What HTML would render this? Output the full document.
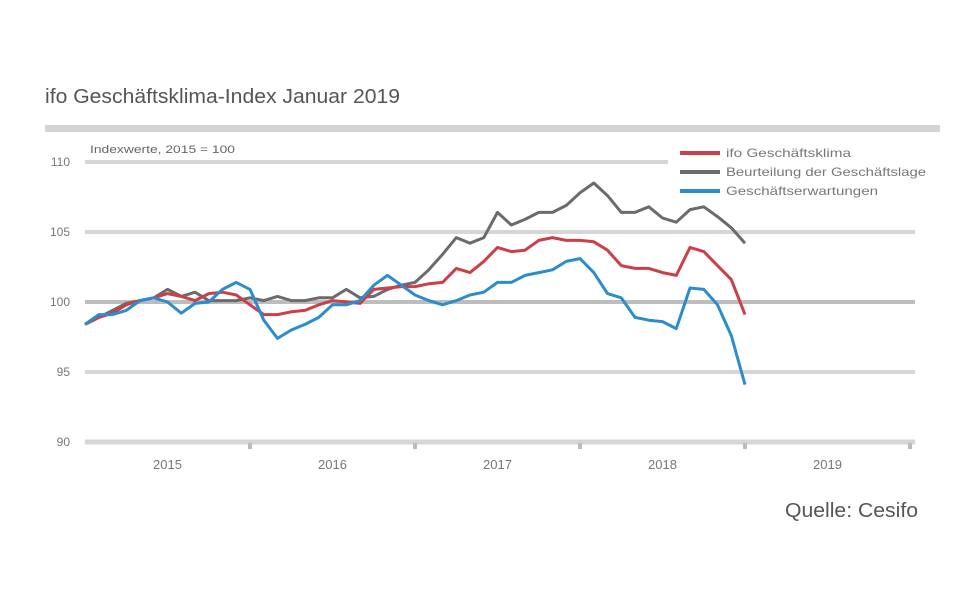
<!DOCTYPE html>
<html><head><meta charset="utf-8"><style>
body{margin:0;background:#fff;width:960px;height:585px;overflow:hidden;font-family:"Liberation Sans",sans-serif}
</style></head><body>
<svg id="chart" width="960" height="585" xmlns="http://www.w3.org/2000/svg" font-family="Liberation Sans, sans-serif">
<text x="45" y="103" font-size="20" fill="#555" textLength="355" lengthAdjust="spacingAndGlyphs">ifo Geschäftsklima-Index Januar 2019</text>
<rect x="45" y="125" width="895" height="7" fill="#d4d4d4"/>
<text x="90" y="153" font-size="11" fill="#666" textLength="145" lengthAdjust="spacingAndGlyphs">Indexwerte, 2015 = 100</text>
<g id="grid"></g><g id="lines"></g><g id="legend"></g>
<text x="785" y="517" font-size="20" fill="#555" textLength="133" lengthAdjust="spacingAndGlyphs">Quelle: Cesifo</text>
</svg>
<script>
const years=["2015","2016","2017","2018","2019"];
const yTicks=[90,95,100,105,110];
const klima=[98.4,98.9,99.2,99.8,100.1,100.3,100.6,100.4,100.1,100.6,100.7,100.5,99.8,99.1,99.1,99.3,99.4,99.8,100.1,100.0,99.9,100.9,101.0,101.1,101.1,101.3,101.4,102.4,102.1,102.9,103.9,103.6,103.7,104.4,104.6,104.4,104.4,104.3,103.7,102.6,102.4,102.4,102.1,101.9,103.9,103.6,102.6,101.6,99.1];
const lage=[98.4,98.9,99.4,99.9,100.1,100.3,100.9,100.4,100.7,100.1,100.1,100.1,100.3,100.1,100.4,100.1,100.1,100.3,100.3,100.9,100.3,100.4,100.9,101.2,101.4,102.3,103.4,104.6,104.2,104.6,106.4,105.5,105.9,106.4,106.4,106.9,107.8,108.5,107.6,106.4,106.4,106.8,106.0,105.7,106.6,106.8,106.1,105.3,104.2];
const erwart=[98.4,99.1,99.1,99.4,100.1,100.3,100.0,99.2,99.9,100.0,100.9,101.4,100.9,98.7,97.4,98.0,98.4,98.9,99.8,99.8,100.1,101.2,101.9,101.2,100.5,100.1,99.8,100.1,100.5,100.7,101.4,101.4,101.9,102.1,102.3,102.9,103.1,102.1,100.6,100.3,98.9,98.7,98.6,98.1,101.0,100.9,99.8,97.6,94.1];
const seriesNames=["ifo Geschäftsklima","Beurteilung der Geschäftslage","Geschäftserwartungen"];
const NS="http://www.w3.org/2000/svg";
const x0=85,x1=910,monthW=(x1-x0)/60;
const xs=i=>x0+i*monthW;
const ys=v=>302-(v-100)*14;
function mk(t,a,p){const e=document.createElementNS(NS,t);for(const k in a)e.setAttribute(k,a[k]);p.appendChild(e);return e;}
const grid=document.getElementById('grid');
yTicks.forEach(v=>{
  const top=v===yTicks[yTicks.length-1];
  const l=mk('line',{x1:x0,x2:top?668:915,y1:ys(v),y2:ys(v),stroke:v===100?'#bdbdbd':'#d6d6d6','stroke-width':v===90?5:4},grid);
  
  
  const t=mk('text',{x:70,y:ys(v)+4,'font-size':12,fill:'#777','text-anchor':'end'},grid);
  t.textContent=v;
  
  
});
years.forEach((y,k)=>{
  const t=mk('text',{x:xs(k*12+6),y:469,'font-size':13,fill:'#777','text-anchor':'middle'},grid);
  t.textContent=y;
  
  
  const m=mk('rect',{x:xs((k+1)*12)-2,y:443,width:4,height:6,fill:'#bbb'},grid);
  
  
});
const colors=["#cc3f48","#6b6b6b","#2c8ccc"];
const data=[klima,lage,erwart];
const lines=document.getElementById('lines');
[1,0,2].forEach(s=>{
  const d=data[s].map((v,i)=>(i?'L':'M')+xs(i).toFixed(1)+' '+ys(v).toFixed(1)).join(' ');
  const p=mk('path',{d:d,fill:'none',stroke:colors[s],'stroke-width':3,'stroke-linejoin':'round'},lines);
  
  
});
const lg=document.getElementById('legend');
const legendW=[125,200,152];
seriesNames.forEach((n,k)=>{
  const y=153+k*19;
  const l=mk('line',{x1:680,x2:720,y1:y,y2:y,stroke:colors[k],'stroke-width':4},lg);
  
  
  const t=mk('text',{x:726,y:y+4,'font-size':12,fill:'#777',textLength:legendW[k],lengthAdjust:'spacingAndGlyphs'},lg);
  t.textContent=n;
  
  
});
</script>
</body></html>
